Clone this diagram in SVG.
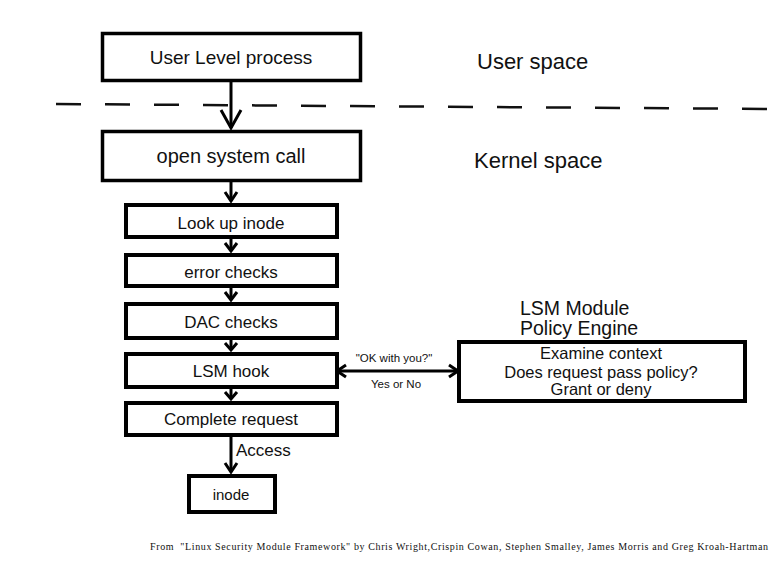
<svg xmlns="http://www.w3.org/2000/svg" width="772" height="563" viewBox="0 0 772 563">
<style>
.box{fill:#fff;stroke:#000;stroke-width:4}
.bigbox{fill:#fff;stroke:#000;stroke-width:3.5}
.t{font-family:"Liberation Sans",Arial,sans-serif;fill:#111;text-anchor:middle}
.lbl{font-family:"Liberation Sans",Arial,sans-serif;fill:#111}
.ln{stroke:#000;stroke-width:3;fill:none}
.head{stroke:#000;stroke-width:3;fill:none;stroke-linejoin:miter}
</style>
<rect width="772" height="563" fill="#fff"/>
<line x1="56" y1="104" x2="772" y2="109" stroke="#111" stroke-width="2.5" stroke-dasharray="25 24"/>
<text class="lbl" x="477" y="69" font-size="22">User space</text>
<text class="lbl" x="474" y="168" font-size="22">Kernel space</text>
<text class="lbl" x="520" y="315" font-size="19.5">LSM Module</text>
<text class="lbl" x="520" y="335" font-size="19.5">Policy Engine</text>
<g id="connectors">
  <line class="ln" x1="231" y1="82" x2="231" y2="128"/>
  <polyline class="head" points="221,110 231,128 241,110"/>
  <line class="ln" x1="231" y1="182" x2="231" y2="201"/>
  <polyline class="head" points="225,192 231,201 237,192"/>
  <line class="ln" x1="231" y1="239" x2="231" y2="251"/>
  <polyline class="head" points="225,243 231,251 237,243"/>
  <line class="ln" x1="231" y1="288" x2="231" y2="300"/>
  <polyline class="head" points="225,292 231,300 237,292"/>
  <line class="ln" x1="231" y1="340" x2="231" y2="350"/>
  <polyline class="head" points="225,343 231,350 237,343"/>
  <line class="ln" x1="231" y1="389" x2="231" y2="399"/>
  <polyline class="head" points="225,392 231,399 237,392"/>
  <line class="ln" x1="231" y1="437" x2="231" y2="472"/>
  <polyline class="head" points="225,463 231,472 237,463"/>
  <line class="ln" x1="337" y1="371" x2="458" y2="371" stroke-width="2.5"/>
  <polyline class="head" points="346,365 337,371 346,377" stroke-width="2.5"/>
  <polyline class="head" points="449,365 458,371 449,377" stroke-width="2.5"/>
  <text class="t" x="394" y="362" font-size="11.5">"OK with you?"</text>
  <text class="t" x="396" y="388" font-size="11.5">Yes or No</text>
  <text class="lbl" x="236" y="456" font-size="17">Access</text>
</g>
<g id="user-process">
  <rect class="bigbox" x="102.5" y="33.5" width="258" height="47"/>
  <text class="t" x="231" y="64" font-size="19">User Level process</text>
</g>
<g id="open-syscall">
  <rect class="bigbox" x="102.5" y="131.5" width="258" height="49"/>
  <text class="t" x="231" y="163" font-size="20">open system call</text>
</g>
<g id="lookup-inode">
  <rect class="box" x="126" y="205" width="211" height="32"/>
  <text class="t" x="231" y="229" font-size="17">Look up inode</text>
</g>
<g id="error-checks">
  <rect class="box" x="126" y="255" width="211" height="31"/>
  <text class="t" x="231" y="278" font-size="17">error checks</text>
</g>
<g id="dac-checks">
  <rect class="box" x="126" y="304" width="211" height="34"/>
  <text class="t" x="231" y="328" font-size="17">DAC checks</text>
</g>
<g id="lsm-hook">
  <rect class="box" x="126" y="354" width="211" height="33"/>
  <text class="t" x="231" y="377" font-size="17">LSM hook</text>
</g>
<g id="complete-request">
  <rect class="box" x="126" y="403" width="211" height="32"/>
  <text class="t" x="231" y="425" font-size="17">Complete request</text>
</g>
<g id="inode">
  <rect class="box" x="189" y="476" width="86" height="36"/>
  <text class="t" x="231" y="500" font-size="15">inode</text>
</g>
<g id="policy-engine">
  <rect class="box" x="459" y="342" width="286" height="59"/>
  <text class="t" x="601" y="359" font-size="16.5">Examine context</text>
  <text class="t" x="601" y="377.5" font-size="16.5">Does request pass policy?</text>
  <text class="t" x="601" y="395" font-size="16.5">Grant or deny</text>
</g>
<text x="150" y="550" font-family="'Liberation Serif','Times New Roman',serif" font-size="10" fill="#111" textLength="618" lengthAdjust="spacing" xml:space="preserve">From  "Linux Security Module Framework" by Chris Wright,Crispin Cowan, Stephen Smalley, James Morris and Greg Kroah-Hartman</text>
</svg>
